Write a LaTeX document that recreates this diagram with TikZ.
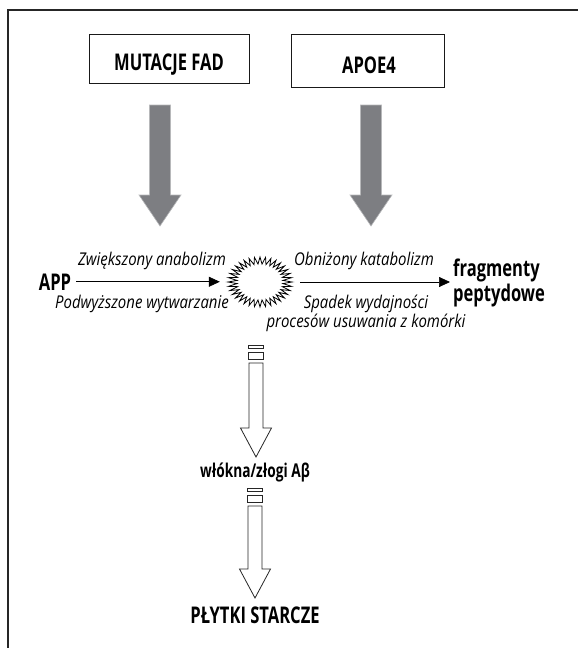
\documentclass[tikz,border=0pt]{standalone}
\usepackage{fontspec}
\setmainfont{Open Sans}[FakeStretch=0.72]
\newfontfamily\labfont{Open Sans}[FakeStretch=0.85]
\usetikzlibrary{arrows.meta, positioning, calc}

\definecolor{arrgrey}{RGB}{125,126,130}

\tikzset{
  box/.style={draw=black!90, line width=0.9pt, inner sep=0pt},
  big/.style={font=\bfseries\fontsize{23}{25}\selectfont, inner sep=0pt},
  mid/.style={font=\bfseries\fontsize{19}{20}\selectfont, inner sep=0pt},
  lab/.style={font=\labfont\itshape\fontsize{17.6}{16}\selectfont, inner sep=0pt},
  flow/.style={line width=0.7pt, -{Triangle[length=11pt,width=10pt]}},
  greyarr/.style={fill=arrgrey, draw=arrgrey!55, line width=0.6pt},
  hollow/.style={draw=black!85, line width=0.8pt, fill=white},
}

% hollow arrow: #1 top of the small bars, #2 the tip
\newcommand{\hollowarrow}[2]{%
  \draw[hollow] ($(#1)+(-7.5,0)$) rectangle ($(#1)+(7.5,3.5)$);
  \draw[hollow] ($(#1)+(-7.5,7.5)$) rectangle ($(#1)+(7.5,14)$);
  \draw[hollow] ($(#1)+(-7,18)$) -- ($(#2)+(-7,-29)$) -- ($(#2)+(-15.5,-29)$)
    -- (#2) -- ($(#2)+(15.5,-29)$) -- ($(#2)+(7,-29)$) -- ($(#1)+(7,18)$) -- cycle;
}

\begin{document}
\begin{tikzpicture}[x=1pt, y=-1pt]
\useasboundingbox (0,0) rectangle (578,648);
\draw [black!85, line width=1.1pt] (578,10) -- (8,10) -- (8,648);

% top boxes
\node [box, minimum width=160pt, minimum height=49pt] (fad) at (169,58.5) {};
\node [big, anchor=base] (fadtxt) at ($(fad.center)+(0,11.5)$) {MUTACJE FAD};
\node [box, minimum width=153pt, minimum height=53pt] (apoe) at (367.5,60.5) {};
\node [big, anchor=base] (apoetxt) at ($(apoe.center)+(1.5,13)$) {APOE4};

% grey arrows
\foreach \gx in {160,371}
  \filldraw [greyarr] (\gx-10.5,105) -- (\gx+10.5,105) -- (\gx+10.5,195) -- (\gx+21,195)
    -- (\gx,226) -- (\gx-21,195) -- (\gx-10.5,195) -- cycle;

% reaction
\node [big, anchor=base] (app) at (55,290) {APP};
\node [minimum width=64pt, minimum height=50pt, inner sep=0pt] (burst) at (260,282) {};
\draw [line width=0.8pt, shift={(burst.center)}] (0:32 and 25)
  \foreach \i [evaluate=\i as \f using {1-0.28*mod(\i,2)}] in {1,...,71} { -- ({\i*5}:{32*\f} and {25*\f}) } -- cycle;
\node [big, align=left, anchor=north west] (frag) at (453,259) {fragmenty\\peptydowe};

\draw [flow, shorten <=5pt, shorten >=8pt] (app.east) -- (app.east -| burst.west);
\draw [flow, shorten <=8pt, shorten >=3pt] (burst.east) -- (burst.east -| frag.west);

\node [lab, anchor=base] (anab) at (152,265) {Zwiększony anabolizm};
\node [lab, anchor=base] (wytw) at (142,308) {Podwyższone wytwarzanie};
\node [lab, anchor=base] (katab) at (364,265) {Obniżony katabolizm};
\node [lab, align=center, anchor=north] (spadek) at (366,295) {Spadek wydajności\\procesów usuwania z komórki};

% down the chain
\node [mid, anchor=base] (fibr) at (255,477) {włókna/złogi Aβ};
\node [big, anchor=base] (plq) at (255,623) {PŁYTKI STARCZE};
\coordinate (top1) at (256,345);
\coordinate (tip1) at (256,457);
\coordinate (top2) at (255,488);
\coordinate (tip2) at (255,598);
\hollowarrow{top1}{tip1}
\hollowarrow{top2}{tip2}
\end{tikzpicture}
\end{document}
